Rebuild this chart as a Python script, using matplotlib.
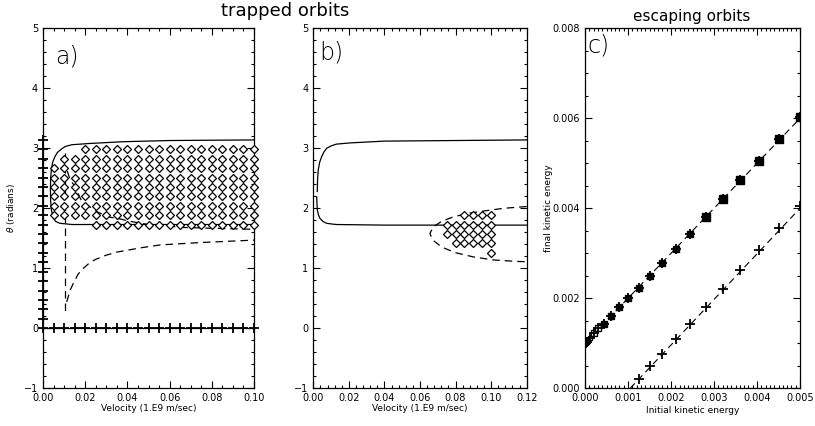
import numpy as np
import matplotlib
matplotlib.use('Agg')
import matplotlib.pyplot as plt
from matplotlib.ticker import MultipleLocator

# ---- panel a: trapped orbits, small velocity range ----
# separatrix (solid)
a_sep_v = [0.100, 0.060, 0.038, 0.0217, 0.0137, 0.0105, 0.0088, 0.0068, 0.0056,
           0.0046, 0.0040, 0.0036, 0.0035, 0.0036, 0.0040, 0.0048, 0.0060,
           0.0080, 0.0137, 0.030, 0.060, 0.100]
a_sep_theta = [3.14, 3.13, 3.11, 3.08, 3.06, 3.03, 2.99, 2.93, 2.86,
               2.77, 2.66, 2.50, 2.31, 2.12, 1.97, 1.84, 1.78,
               1.75, 1.73, 1.73, 1.73, 1.73]

# diamond grid of trapped starting points
grid_v = [0.005, 0.010, 0.015, 0.020, 0.025, 0.030, 0.035, 0.040, 0.045, 0.050,
          0.055, 0.060, 0.065, 0.070, 0.075, 0.080, 0.085, 0.090, 0.095, 0.100]
a_rows_theta = [2.985, 2.827, 2.670, 2.513, 2.356, 2.199, 2.042, 1.885, 1.728]
a_rows_vmin = [0.020, 0.010, 0.005, 0.005, 0.005, 0.005, 0.005, 0.005, 0.025]

# plus markers along the axes
a_edge_theta = [0.157, 0.314, 0.471, 0.628, 0.785, 0.942, 1.100, 1.257, 1.414, 1.571,
                1.728, 1.885, 2.042, 2.199, 2.356, 2.513, 2.670, 2.827, 2.985, 3.142]
a_axis_v = [0.000] + grid_v

# dashed trajectories
a_traj1_v = [0.0102, 0.0102]
a_traj1_theta = [2.92, 0.22]
a_traj2_v = [0.0115, 0.0129, 0.0153, 0.0172, 0.0185, 0.0233, 0.0257, 0.029, 0.032,
             0.037, 0.040, 0.050, 0.067, 0.100]
a_traj2_theta = [2.62, 2.47, 2.36, 2.20, 2.11, 2.00, 1.94, 1.89, 1.85,
                 1.82, 1.79, 1.73, 1.68, 1.65]
a_traj3_v = [0.0112, 0.0129, 0.0145, 0.0166, 0.0185, 0.022, 0.025, 0.030, 0.035,
             0.046, 0.0555, 0.075, 0.100]
a_traj3_theta = [0.44, 0.64, 0.76, 0.90, 0.98, 1.09, 1.15, 1.22, 1.27,
                 1.34, 1.39, 1.43, 1.47]

# ---- panel b: trapped orbits, larger velocity range ----
b_sep_up_v = [0.00225, 0.0024, 0.0028, 0.0036, 0.0047, 0.0060, 0.0075, 0.010,
              0.013, 0.0206, 0.040, 0.080, 0.120]
b_sep_up_theta = [2.28, 2.48, 2.64, 2.77, 2.86, 2.94, 3.00, 3.04,
                  3.07, 3.09, 3.12, 3.13, 3.14]
b_sep_lo_v = [0.0019, 0.0021, 0.0023, 0.0029, 0.0038, 0.0055, 0.0075, 0.010,
              0.013, 0.040, 0.120]
b_sep_lo_theta = [2.19, 2.06, 1.97, 1.89, 1.83, 1.78, 1.75, 1.74,
                  1.73, 1.72, 1.72]
b_dash_v = [0.120, 0.107, 0.097, 0.088, 0.079, 0.072, 0.0675, 0.0656, 0.0672,
            0.0725, 0.080, 0.090, 0.101, 0.114, 0.120]
b_dash_theta = [2.03, 2.00, 1.96, 1.92, 1.86, 1.78, 1.69, 1.58, 1.47,
                1.35, 1.26, 1.19, 1.14, 1.115, 1.11]
b_rows_theta = [1.885, 1.728, 1.571, 1.414, 1.257]
b_rows_vmin = [0.085, 0.075, 0.075, 0.080, 0.100]

# ---- panel c: escaping orbits ----
c_up_ke0 = [0.0, 0.0000125, 0.00005, 0.00011, 0.0002, 0.00031, 0.00045, 0.00061,
            0.0008, 0.00101, 0.00125, 0.00151, 0.0018, 0.00211, 0.00245, 0.00281,
            0.0032, 0.00361, 0.00405, 0.00451, 0.005]
c_up_ke1 = [0.001, 0.00101, 0.00104, 0.00112, 0.00122, 0.00133, 0.00144, 0.00161,
            0.0018, 0.002, 0.00224, 0.0025, 0.00278, 0.00309, 0.00343, 0.0038,
            0.0042, 0.00463, 0.00506, 0.00553, 0.00602]
c_lo_ke0 = [0.00125, 0.00151, 0.0018, 0.00211, 0.00245, 0.00281, 0.0032, 0.00361,
            0.00405, 0.00451, 0.005]
c_lo_ke1 = [0.0002, 0.00049, 0.00077, 0.00109, 0.00143, 0.0018, 0.00221, 0.00263,
            0.00308, 0.00356, 0.00405]
c_fit_up_x = [0.0, 0.005]
c_fit_up_y = [0.001, 0.006]
c_fit_lo_x = [0.00105, 0.005]
c_fit_lo_y = [0.0, 0.004]

DASH = (6, 4)
TICKFS = 7
LABFS = 6.5
DIAM_MS = 3.6


def style_axes(ax, xmajor, xminor, ymajor, yminor):
    ax.xaxis.set_major_locator(MultipleLocator(xmajor))
    ax.xaxis.set_minor_locator(MultipleLocator(xminor))
    ax.yaxis.set_major_locator(MultipleLocator(ymajor))
    ax.yaxis.set_minor_locator(MultipleLocator(yminor))
    ax.tick_params(which='both', direction='in', top=True, right=True,
                   labelsize=TICKFS, width=0.8)
    ax.tick_params(which='major', length=5)
    ax.tick_params(which='minor', length=2.5)
    for s in ax.spines.values():
        s.set_linewidth(0.9)


def diamond_grid(rows_theta, rows_vmin):
    vs, ts = [], []
    for th, vmin in zip(rows_theta, rows_vmin):
        for v in grid_v:
            if v >= vmin - 1e-9:
                vs.append(v)
                ts.append(th)
    return vs, ts


fig = plt.figure(figsize=(8.15, 4.26), dpi=100)
ax_a = fig.add_axes([0.0528, 0.0885, 0.2589, 0.845])
ax_b = fig.add_axes([0.3844, 0.0885, 0.2618, 0.845])
ax_c = fig.add_axes([0.7178, 0.0885, 0.2638, 0.845])

# panel a
ax_a.plot(a_sep_v, a_sep_theta, color='black', lw=0.9)
dv, dt = diamond_grid(a_rows_theta, a_rows_vmin)
ax_a.plot(dv, dt, ls='none', marker='D', ms=DIAM_MS, mfc='white', mec='black',
          mew=0.9, clip_on=False, zorder=3)
ax_a.plot(a_traj1_v, a_traj1_theta, color='black', lw=0.9, dashes=DASH)
ax_a.plot(a_traj2_v, a_traj2_theta, color='black', lw=0.9, dashes=DASH)
ax_a.plot(a_traj3_v, a_traj3_theta, color='black', lw=0.9, dashes=DASH)
ax_a.plot([0.0] * len(a_edge_theta), a_edge_theta, ls='none', marker='+',
          ms=7, mew=1.3, color='black', clip_on=False, zorder=4)
ax_a.plot(a_axis_v, [0.0] * len(a_axis_v), ls='-', lw=0.9, marker='+',
          ms=7, mew=1.3, color='black', clip_on=False, zorder=4)
ax_a.set_xlim(0, 0.1)
ax_a.set_ylim(-1, 5)
style_axes(ax_a, 0.02, 0.005, 1, 0.2)
ax_a.xaxis.set_major_formatter(plt.FormatStrFormatter('%.2f'))
ax_a.set_xlabel('Velocity (1.E9 m/sec)', fontsize=LABFS)
ax_a.xaxis.set_label_coords(0.5, -0.045)
ax_a.set_ylabel(r'$\theta$ (radians)', fontsize=LABFS)
ax_a.yaxis.set_label_coords(-0.125, 0.5)
ax_a.text(0.055, 0.955, 'a)', transform=ax_a.transAxes, fontsize=17,
          ha='left', va='top', fontweight='light')

# panel b
ax_b.plot(b_sep_up_v, b_sep_up_theta, color='black', lw=0.9)
ax_b.plot(b_sep_lo_v, b_sep_lo_theta, color='black', lw=0.9)
ax_b.plot(b_dash_v, b_dash_theta, color='black', lw=0.9, dashes=DASH)
dv, dt = diamond_grid(b_rows_theta, b_rows_vmin)
ax_b.plot(dv, dt, ls='none', marker='D', ms=DIAM_MS, mfc='white', mec='black',
          mew=0.9, zorder=3)
ax_b.set_xlim(0, 0.12)
ax_b.set_ylim(-1, 5)
style_axes(ax_b, 0.02, 0.004, 1, 0.2)
ax_b.xaxis.set_major_formatter(plt.FormatStrFormatter('%.2f'))
ax_b.set_xlabel('Velocity (1.E9 m/sec)', fontsize=LABFS)
ax_b.xaxis.set_label_coords(0.5, -0.045)
ax_b.text(0.03, 0.965, 'b)', transform=ax_b.transAxes, fontsize=17,
          ha='left', va='top', fontweight='light')

# panel c
ax_c.plot(c_fit_up_x, c_fit_up_y, color='black', lw=0.8, dashes=DASH)
ax_c.plot(c_fit_lo_x, c_fit_lo_y, color='black', lw=0.8, dashes=DASH)
sq_ms = [3.5 + 2.8 * x / 0.005 for x in c_up_ke0]
for x, y, m in zip(c_up_ke0, c_up_ke1, sq_ms):
    filled = x > 0.0004
    ax_c.plot([x], [y], ls='none', marker='s', ms=m,
              mfc='black' if filled else 'white', mec='black', mew=1.0)
ax_c.plot(c_up_ke0, c_up_ke1, ls='none', marker='+', ms=7, mew=1.3,
          color='black')
ax_c.plot(c_lo_ke0, c_lo_ke1, ls='none', marker='+', ms=7, mew=1.3,
          color='black')
ax_c.set_xlim(0, 0.005)
ax_c.set_ylim(0, 0.008)
style_axes(ax_c, 0.001, 0.0001, 0.002, 0.0005)
ax_c.xaxis.set_major_formatter(plt.FormatStrFormatter('%.3f'))
ax_c.yaxis.set_major_formatter(plt.FormatStrFormatter('%.3f'))
ax_c.set_xlabel('Initial kinetic energy', fontsize=LABFS)
ax_c.xaxis.set_label_coords(0.5, -0.05)
ax_c.set_ylabel('final kinetic energy', fontsize=LABFS)
ax_c.yaxis.set_label_coords(-0.15, 0.5)
ax_c.text(0.01, 0.985, 'c)', transform=ax_c.transAxes, fontsize=17,
          ha='left', va='top', fontweight='light')

fig.text(285 / 815, 1 - 11 / 426, 'trapped orbits', fontsize=13,
         ha='center', va='center')
fig.text(692 / 815, 1 - 16 / 426, 'escaping orbits', fontsize=11,
         ha='center', va='center')

fig.savefig('out.png', dpi=100)
